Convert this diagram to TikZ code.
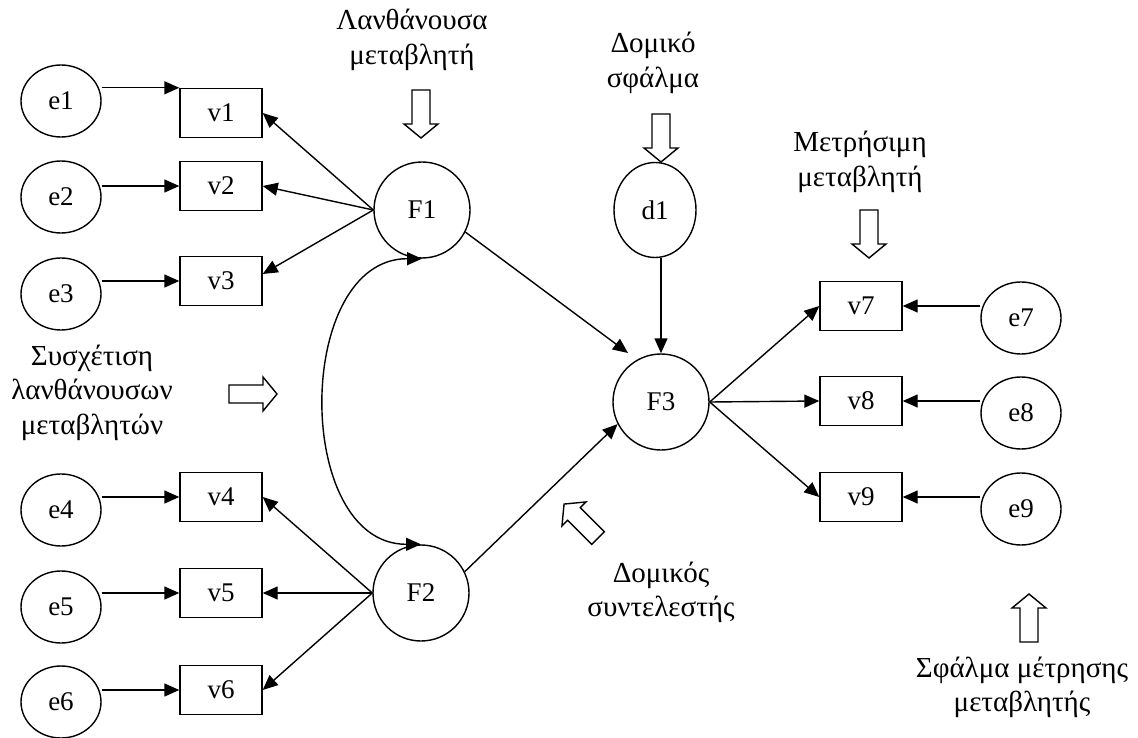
\documentclass[tikz,border=0pt]{standalone}
\usepackage{fontspec}
\setmainfont{Liberation Serif}
\usetikzlibrary{arrows.meta,shapes.geometric}
\begin{document}
\begin{tikzpicture}[x=1pt,y=-1pt,
  every node/.style={font=\fontsize{27}{34}\selectfont},
  lat/.style={draw,circle,minimum size=96pt,inner sep=0pt,line width=1.4pt},
  err/.style={draw,ellipse,minimum width=80pt,minimum height=72pt,inner sep=0pt,line width=1.4pt},
  obs/.style={draw,rectangle,minimum width=82pt,minimum height=49pt,inner sep=0pt,line width=1.4pt},
  arr/.style={-{Triangle[length=15pt,width=13pt]},line width=1.4pt},
  darr/.style={{Triangle[length=15pt,width=13pt]}-{Triangle[length=15pt,width=13pt]},line width=1.4pt},
  lbl/.style={anchor=base,inner sep=0pt,font=\fontsize{29}{34.5}\selectfont},
  blockarr/.pic={\draw[line width=1.4pt,fill=white] (0,-9) -- (34,-9) -- (34,-17) -- (48,0) -- (34,17) -- (34,9) -- (0,9) -- cycle;}]
\useasboundingbox (0,0) rectangle (1138,738);

% observed variables
\node[obs] (v1) at (221,113) {v1};
\node[obs] (v2) at (221,186) {v2};
\node[obs] (v3) at (221,281) {v3};
\node[obs] (v4) at (221,497) {v4};
\node[obs] (v5) at (221,593) {v5};
\node[obs] (v6) at (221,690) {v6};
\node[obs] (v7) at (861,306) {v7};
\node[obs] (v8) at (861,401) {v8};
\node[obs] (v9) at (861,497) {v9};

% errors
\node[err] (e1) at (61,101) {e1};
\node[err] (e2) at (61,197) {e2};
\node[err] (e3) at (61,294) {e3};
\node[err] (e4) at (61,510) {e4};
\node[err] (e5) at (61,607) {e5};
\node[err] (e6) at (61,702) {e6};
\node[err] (e7) at (1021,318) {e7};
\node[err] (e8) at (1021,413) {e8};
\node[err] (e9) at (1021,509) {e9};
\node[err,minimum width=82pt,minimum height=95pt] (d1) at (655,210) {d1};

% latent
\node[lat] (F1) at (422,210) {F1};
\node[lat] (F2) at (421,593) {F2};
\node[lat] (F3) at (661,402) {F3};

% connectors
\draw[arr] (e1.east |- v1.north) -- (v1.north west);
\draw[arr] (e2.east |- v2.west) -- (v2.west);
\draw[arr] (e3.east |- v3.west) -- (v3.west);
\draw[arr] (e4.east |- v4.west) -- (v4.west);
\draw[arr] (e5.east |- v5.west) -- (v5.west);
\draw[arr] (e6.east |- v6.west) -- (v6.west);
\draw[arr] (e7.west |- v7.east) -- (v7.east);
\draw[arr] (e8.west |- v8.east) -- (v8.east);
\draw[arr] (e9.west |- v9.east) -- (v9.east);

\draw[arr] (F1.west) -- (v1.east);
\draw[arr] (F1.west) -- (v2.east);
\draw[arr] (F1.west) -- ([yshift=7pt]v3.east);
\draw[arr] (F2.west) -- (v4.east);
\draw[arr] (F2.west) -- (v5.east);
\draw[arr] (F2.west) -- (v6.east);
\draw[darr] (F1.south) .. controls +(-128,0) and +(-128,0) .. (F2.north);

\draw[arr] (F1.-27) -- ([shift={(-33,-49)}]F3.center);
\draw[arr] (F2.26) -- (F3.207);
\draw[arr] (F3.north |- d1.south) -- (F3.north);
\draw[arr] (F3.east) -- (v7.west);
\draw[arr] (F3.east) -- (v8.west);
\draw[arr] (F3.east) -- (v9.west);

% labels
\node[lbl] (tlat) at (412,30) {\begin{tabular}[t]{@{}c@{}}Λανθάνουσα\\μεταβλητή\end{tabular}};
\node[lbl] (tdist) at (653,53) {\begin{tabular}[t]{@{}c@{}}Δομικό\\σφάλμα\end{tabular}};
\node[lbl] (tmeas) at (860,152) {\begin{tabular}[t]{@{}c@{}}Μετρήσιμη\\μεταβλητή\end{tabular}};
\node[lbl] (tcorr) at (92,365) {\begin{tabular}[t]{@{}c@{}}Συσχέτιση\\λανθάνουσων\\μεταβλητών\end{tabular}};
\node[lbl] (tcoef) at (661,582) {\begin{tabular}[t]{@{}c@{}}Δομικός\\συντελεστής\end{tabular}};
\node[lbl] (terr) at (1022,677) {\begin{tabular}[t]{@{}c@{}}Σφάλμα μέτρησης\\μεταβλητής\end{tabular}};

% hollow block arrows
\pic[rotate=-90] at (421,90) {blockarr};
\pic[rotate=-90] at (661,114) {blockarr};
\pic[rotate=-90] at (869,210) {blockarr};
\pic[rotate=90] at (1029,642) {blockarr};
\pic at (229,394) {blockarr};
\pic[rotate=135] at (598,538) {blockarr};
\end{tikzpicture}
\end{document}
